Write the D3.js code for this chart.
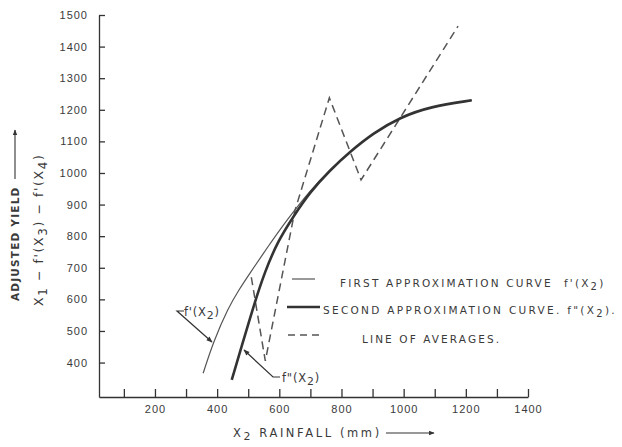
<!DOCTYPE html>
<html>
<head>
<meta charset="utf-8">
<script src="https://cdn.jsdelivr.net/npm/d3@7"></script>
<style>
  body { margin: 0; background: #fff; }
  svg { display: block; font-family: "DejaVu Sans", sans-serif; }
  .axis text { font-size: 11px; fill: #3a3a3a; letter-spacing: 1px; }
  .axis path, .axis line { stroke: #333; stroke-width: 1.3; }
</style>
</head>
<body>
<div id="chart"></div>
<script>
// setting up constants
const FRAME_WIDTH = 622;
const FRAME_HEIGHT = 447;

// tick values
const xTicks = d3.range(100, 1500, 100);
const yTicks = d3.range(400, 1600, 100);

// first approximation curve f'(x2)  [rainfall, adjusted yield]
const firstApprox = [[355, 366], [388, 466], [436, 574], [470, 630], [500, 675], [565, 769], [618, 843],
                     [699, 945], [763, 1009], [827, 1067], [902, 1126], [988, 1176], [1085, 1210], [1219, 1230]];
// second approximation curve f''(x2)
const secondApprox = [[447, 345], [480, 455], [516, 575], [554, 690], [597, 787], [645, 862],
                      [699, 940], [763, 1009], [827, 1067], [902, 1126], [988, 1176], [1085, 1210], [1219, 1230]];
// line of averages
const averages = [[510, 670], [555, 405], [650, 880], [761, 1238], [863, 978], [1175, 1465]];

const FRAME = d3.select("#chart")
  .append("svg")
  .attr("width", FRAME_WIDTH)
  .attr("height", FRAME_HEIGHT);

FRAME.append("rect").attr("width", FRAME_WIDTH).attr("height", FRAME_HEIGHT).attr("fill", "#fff");

// arrow heads
const defs = FRAME.append("defs");
defs.append("marker")
  .attr("id", "arrow")
  .attr("viewBox", "0 0 10 10")
  .attr("refX", 9).attr("refY", 5)
  .attr("markerWidth", 7).attr("markerHeight", 5)
  .attr("orient", "auto")
  .append("path").attr("d", "M0,1 L10,5 L0,9 Z").attr("fill", "#333");

// scales
const xScale = d3.scaleLinear().domain([20, 1400]).range([99, 528]);
const yScale = d3.scaleLinear().domain([291, 1500]).range([397, 15]);

// x axis, ticks point up into the plot
FRAME.append("g")
  .attr("class", "axis")
  .attr("transform", "translate(0," + yScale.range()[0] + ")")
  .call(d3.axisBottom(xScale)
    .tickValues(xTicks)
    .tickSizeInner(-8)
    .tickSizeOuter(0)
    .tickPadding(8)
    .tickFormat(d => d % 200 === 0 ? d : ""));

// y axis, ticks point right
FRAME.append("g")
  .attr("class", "axis")
  .attr("transform", "translate(" + xScale.range()[0] + ",0)")
  .call(d3.axisLeft(yScale)
    .tickValues(yTicks)
    .tickSizeInner(-6)
    .tickSizeOuter(0)
    .tickPadding(11)
    .tickFormat(d3.format("d")));

// lines
const line = d3.line()
  .x(d => xScale(d[0]))
  .y(d => yScale(d[1]));

FRAME.append("path")
  .datum(averages)
  .attr("d", line.curve(d3.curveLinear))
  .attr("fill", "none")
  .attr("stroke", "#555")
  .attr("stroke-width", 1.5)
  .attr("stroke-dasharray", "8,5");

FRAME.append("path")
  .datum(firstApprox)
  .attr("d", line.curve(d3.curveBasis))
  .attr("fill", "none")
  .attr("stroke", "#555")
  .attr("stroke-width", 1.2);

FRAME.append("path")
  .datum(secondApprox)
  .attr("d", line.curve(d3.curveBasis))
  .attr("fill", "none")
  .attr("stroke", "#333")
  .attr("stroke-width", 2.6);

// helper for text with subscripts
function subText(g, parts, x, y, size, spacing) {
  const t = g.append("text")
    .attr("x", x).attr("y", y)
    .attr("font-size", size)
    .attr("fill", "#3a3a3a")
    .attr("letter-spacing", spacing)
    .attr("xml:space", "preserve");
  parts.forEach(p => {
    const s = t.append("tspan").text(p[0]);
    if (p[1]) s.attr("baseline-shift", "-30%").attr("font-size", size * 0.95);
  });
  return t;
}

// curve labels with leaders
FRAME.append("polyline")
  .attr("points", "184,311 177,311 212,342")
  .attr("fill", "none").attr("stroke", "#333").attr("stroke-width", 1.2)
  .attr("marker-end", "url(#arrow)");
subText(FRAME, [["f'(X"], ["2", true], [")"]], 184, 316, 11.5, 0.8);

FRAME.append("polyline")
  .attr("points", "280,377 273,377 244,350")
  .attr("fill", "none").attr("stroke", "#333").attr("stroke-width", 1.2)
  .attr("marker-end", "url(#arrow)");
subText(FRAME, [["f\"(X"], ["2", true], [")"]], 282, 382, 11.5, 0.8);

// legend
const legend = FRAME.append("g");
legend.append("line").attr("x1", 292).attr("x2", 315).attr("y1", 279).attr("y2", 279)
  .attr("stroke", "#555").attr("stroke-width", 1.2);
subText(legend, [["FIRST APPROXIMATION CURVE  f'(X"], ["2", true], [")"]], 340, 287, 10.5, 2.2);

legend.append("line").attr("x1", 287).attr("x2", 320).attr("y1", 307).attr("y2", 307)
  .attr("stroke", "#333").attr("stroke-width", 2.4);
subText(legend, [["SECOND APPROXIMATION CURVE. f\"(X"], ["2", true], [")."]], 323, 314, 10.5, 2.3);

legend.append("line").attr("x1", 288).attr("x2", 320).attr("y1", 335).attr("y2", 335)
  .attr("stroke", "#555").attr("stroke-width", 1.4).attr("stroke-dasharray", "7,5");
subText(legend, [["LINE OF AVERAGES."]], 362, 343, 10.5, 2.1);

// x axis title
subText(FRAME, [["X"], ["2", true], [" RAINFALL (mm)"]], 233, 437, 11.5, 2.6);
FRAME.append("line").attr("x1", 386).attr("x2", 434).attr("y1", 433).attr("y2", 433)
  .attr("stroke", "#333").attr("stroke-width", 1.1).attr("marker-end", "url(#arrow)");

// y axis titles
const yTitle = FRAME.append("g").attr("transform", "translate(19,301) rotate(-90)");
subText(yTitle, [["ADJUSTED YIELD"]], 0, 0, 10.5, 1.2).attr("font-weight", "bold");
yTitle.append("line").attr("x1", 122).attr("x2", 171).attr("y1", -4).attr("y2", -4)
  .attr("stroke", "#333").attr("stroke-width", 1.1).attr("marker-end", "url(#arrow)");

const yTitle2 = FRAME.append("g").attr("transform", "translate(43,306) rotate(-90)");
subText(yTitle2, [["X"], ["1", true], [" \u2212 f'(X"], ["3", true], [") \u2212 f'(X"], ["4", true], [")"]], 0, 0, 12.5, 1.6);
</script>
</body>
</html>
